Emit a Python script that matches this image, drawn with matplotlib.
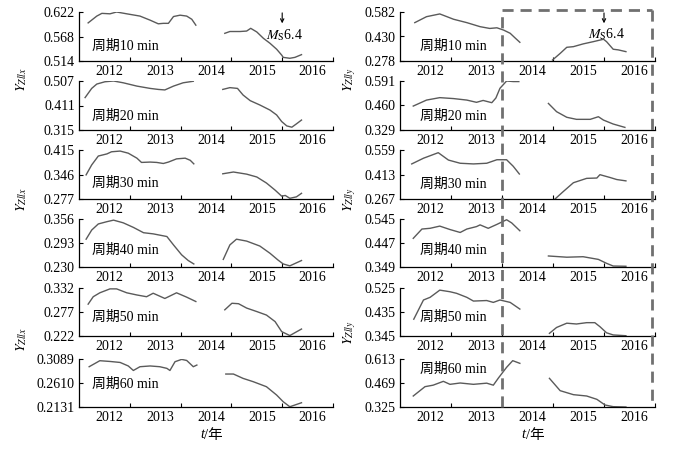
import numpy as np
import matplotlib
matplotlib.use('Agg')
import matplotlib.pyplot as plt
from matplotlib.lines import Line2D
import matplotlib.transforms as mtransforms

plt.rcParams['font.family'] = ['Liberation Serif', 'Noto Sans CJK SC']
plt.rcParams['mathtext.fontset'] = 'stix'

periods = [10, 20, 30, 40, 50, 60]
years = [2012, 2013, 2014, 2015, 2016]

# left column: Y_Zllx  (nan splits the two data segments)
zllx_10_t = [2012.18, 2012.35, 2012.45, 2012.61, 2012.74, 2012.94, 2013.20, 2013.40, 2013.56, 2013.66, 2013.76, 2013.86, 2013.99, 2014.12, 2014.22, 2014.30,
             np.nan, 2014.87, 2014.97, 2015.17, 2015.30, 2015.38, 2015.50, 2015.63, 2015.76, 2015.89, 2015.99, 2016.02, 2016.15, 2016.25, 2016.38]
zllx_10_v = [0.598, 0.613, 0.619, 0.618, 0.622, 0.618, 0.613, 0.604, 0.596, 0.597, 0.597, 0.612, 0.615, 0.613, 0.606, 0.593,
             np.nan, 0.575, 0.579, 0.579, 0.580, 0.586, 0.578, 0.564, 0.553, 0.540, 0.527, 0.522, 0.520, 0.522, 0.528]
zllx_20_t = [2012.12, 2012.25, 2012.35, 2012.51, 2012.68, 2012.87, 2013.14, 2013.40, 2013.56, 2013.69, 2013.86, 2014.05, 2014.25,
             np.nan, 2014.83, 2014.97, 2015.12, 2015.23, 2015.37, 2015.56, 2015.76, 2015.89, 2015.99, 2016.09, 2016.19, 2016.28, 2016.38]
zllx_20_v = [0.442, 0.478, 0.495, 0.504, 0.507, 0.500, 0.487, 0.478, 0.474, 0.472, 0.487, 0.500, 0.506,
             np.nan, 0.474, 0.481, 0.478, 0.452, 0.430, 0.413, 0.393, 0.374, 0.348, 0.331, 0.326, 0.339, 0.354]
zllx_30_t = [2012.14, 2012.25, 2012.38, 2012.55, 2012.64, 2012.81, 2012.97, 2013.14, 2013.23, 2013.40, 2013.53, 2013.66, 2013.76, 2013.92, 2014.09, 2014.19, 2014.26,
             np.nan, 2014.83, 2015.04, 2015.30, 2015.50, 2015.69, 2015.86, 2015.99, 2016.06, 2016.15, 2016.28, 2016.38]
zllx_30_v = [0.345, 0.373, 0.398, 0.404, 0.410, 0.412, 0.406, 0.392, 0.380, 0.381, 0.380, 0.377, 0.381, 0.390, 0.392, 0.386, 0.376,
             np.nan, 0.348, 0.353, 0.347, 0.339, 0.322, 0.302, 0.285, 0.287, 0.279, 0.283, 0.293]
zllx_40_t = [2012.14, 2012.25, 2012.38, 2012.55, 2012.68, 2012.87, 2013.07, 2013.27, 2013.46, 2013.73, 2013.86, 2014.02, 2014.15, 2014.26,
             np.nan, 2014.84, 2014.97, 2015.10, 2015.30, 2015.56, 2015.76, 2015.92, 2016.02, 2016.15, 2016.38]
zllx_40_v = [0.303, 0.327, 0.343, 0.349, 0.353, 0.346, 0.334, 0.320, 0.317, 0.310, 0.288, 0.262, 0.247, 0.238,
             np.nan, 0.250, 0.288, 0.303, 0.298, 0.285, 0.266, 0.248, 0.238, 0.233, 0.247]
zllx_50_t = [2012.18, 2012.28, 2012.41, 2012.61, 2012.74, 2012.94, 2013.14, 2013.33, 2013.46, 2013.69, 2013.92, 2014.12, 2014.30,
             np.nan, 2014.87, 2015.01, 2015.14, 2015.30, 2015.50, 2015.69, 2015.86, 2015.99, 2016.15, 2016.38]
zllx_50_v = [0.295, 0.312, 0.321, 0.330, 0.330, 0.321, 0.316, 0.312, 0.320, 0.308, 0.321, 0.311, 0.301,
             np.nan, 0.282, 0.297, 0.296, 0.286, 0.278, 0.270, 0.255, 0.232, 0.223, 0.238]
zllx_60_t = [2012.20, 2012.41, 2012.61, 2012.81, 2012.97, 2013.07, 2013.20, 2013.40, 2013.59, 2013.73, 2013.79, 2013.89, 2014.02, 2014.12, 2014.25, 2014.32,
             np.nan, 2014.89, 2015.04, 2015.23, 2015.43, 2015.69, 2015.89, 2016.02, 2016.15, 2016.38]
zllx_60_v = [0.2935, 0.3055, 0.304, 0.302, 0.295, 0.286, 0.2935, 0.295, 0.2935, 0.2902, 0.286, 0.3035, 0.3081, 0.306, 0.2935, 0.2968,
             np.nan, 0.2789, 0.2789, 0.2702, 0.2636, 0.2536, 0.2370, 0.2236, 0.2136, 0.2216]

# right column: Y_Zlly
zlly_10_t = [2012.29, 2012.52, 2012.78, 2012.92, 2013.05, 2013.31, 2013.57, 2013.76, 2013.90, 2014.03, 2014.16, 2014.25, 2014.35,
             np.nan, 2014.99, 2015.14, 2015.27, 2015.40, 2015.59, 2015.79, 2015.99, 2016.05, 2016.18, 2016.28, 2016.43]
zlly_10_v = [0.516, 0.553, 0.570, 0.553, 0.537, 0.516, 0.491, 0.480, 0.484, 0.470, 0.450, 0.423, 0.394,
             np.nan, 0.284, 0.325, 0.363, 0.367, 0.384, 0.398, 0.413, 0.398, 0.351, 0.347, 0.336]
zlly_20_t = [2012.26, 2012.52, 2012.78, 2013.05, 2013.31, 2013.50, 2013.63, 2013.80, 2013.88, 2013.96, 2014.09, 2014.22, 2014.33,
             np.nan, 2014.91, 2015.07, 2015.27, 2015.46, 2015.73, 2015.89, 2015.99, 2016.18, 2016.41]
zlly_20_v = [0.457, 0.489, 0.502, 0.497, 0.489, 0.477, 0.487, 0.475, 0.500, 0.552, 0.591, 0.588, 0.588,
             np.nan, 0.471, 0.427, 0.397, 0.386, 0.386, 0.400, 0.382, 0.361, 0.343]
zlly_30_t = [2012.23, 2012.46, 2012.75, 2012.95, 2013.18, 2013.44, 2013.70, 2013.90, 2014.09, 2014.22, 2014.34,
             np.nan, 2015.04, 2015.20, 2015.40, 2015.66, 2015.86, 2015.92, 2016.12, 2016.25, 2016.43]
zlly_30_v = [0.476, 0.510, 0.543, 0.499, 0.480, 0.476, 0.480, 0.501, 0.501, 0.462, 0.416,
             np.nan, 0.267, 0.311, 0.364, 0.390, 0.392, 0.412, 0.395, 0.383, 0.375]
zlly_40_t = [2012.26, 2012.43, 2012.59, 2012.78, 2012.98, 2013.18, 2013.31, 2013.50, 2013.57, 2013.73, 2013.90, 2014.09, 2014.19, 2014.35,
             np.nan, 2014.91, 2015.27, 2015.59, 2015.89, 2016.05, 2016.18, 2016.43]
zlly_40_v = [0.466, 0.504, 0.507, 0.516, 0.502, 0.490, 0.504, 0.514, 0.521, 0.507, 0.523, 0.542, 0.529, 0.497,
             np.nan, 0.394, 0.389, 0.391, 0.380, 0.364, 0.353, 0.352]
zlly_50_t = [2012.27, 2012.46, 2012.59, 2012.78, 2012.98, 2013.11, 2013.31, 2013.44, 2013.70, 2013.83, 2013.96, 2014.16, 2014.35,
             np.nan, 2014.93, 2015.07, 2015.27, 2015.46, 2015.66, 2015.82, 2015.92, 2016.05, 2016.18, 2016.43]
zlly_50_v = [0.408, 0.480, 0.490, 0.517, 0.511, 0.505, 0.490, 0.476, 0.478, 0.471, 0.480, 0.471, 0.446,
             np.nan, 0.355, 0.377, 0.393, 0.390, 0.395, 0.395, 0.380, 0.357, 0.349, 0.346]
zlly_60_t = [2012.26, 2012.49, 2012.65, 2012.85, 2012.98, 2013.18, 2013.44, 2013.70, 2013.83, 2013.93, 2014.09, 2014.21, 2014.35,
             np.nan, 2014.93, 2015.14, 2015.40, 2015.66, 2015.86, 2016.02, 2016.18, 2016.43]
zlly_60_v = [0.391, 0.447, 0.456, 0.479, 0.461, 0.469, 0.461, 0.468, 0.456, 0.499, 0.563, 0.603, 0.587,
             np.nan, 0.497, 0.423, 0.399, 0.391, 0.371, 0.337, 0.327, 0.325]

zllx_ticks = [['0.514', '0.568', '0.622'], ['0.315', '0.411', '0.507'], ['0.277', '0.346', '0.415'],
              ['0.230', '0.293', '0.356'], ['0.222', '0.277', '0.332'], ['0.2131', '0.2610', '0.3089']]
zlly_ticks = [['0.278', '0.430', '0.582'], ['0.329', '0.460', '0.591'], ['0.267', '0.413', '0.559'],
              ['0.349', '0.447', '0.545'], ['0.345', '0.435', '0.525'], ['0.325', '0.469', '0.613']]

quake_year = 2016.0
quake_label = r'$M_{\rm S}$6.4'

zllx_t = [zllx_10_t, zllx_20_t, zllx_30_t, zllx_40_t, zllx_50_t, zllx_60_t]
zllx_v = [zllx_10_v, zllx_20_v, zllx_30_v, zllx_40_v, zllx_50_v, zllx_60_v]
zlly_t = [zlly_10_t, zlly_20_t, zlly_30_t, zlly_40_t, zlly_50_t, zlly_60_t]
zlly_v = [zlly_10_v, zlly_20_v, zlly_30_v, zlly_40_v, zlly_50_v, zlly_60_v]

W, H = 682, 449
fig = plt.figure(figsize=(W / 100, H / 100), dpi=100)

row_top = [12, 81, 150, 219, 288, 359]
row_bot = [61, 130, 199, 267, 336, 407]
col_x = [(79, 333), (400, 655)]
label_y_left = [0.29, 0.27, 0.32, 0.35, 0.39, 0.48]
label_y_right = [0.29, 0.27, 0.30, 0.35, 0.39, 0.79]
label_x = [0.05, 0.078]

line_c = '#5a5a5a'
axes = [[], []]
for c, (ts, vs, ticks, ly) in enumerate([(zllx_t, zllx_v, zllx_ticks, label_y_left),
                                         (zlly_t, zlly_v, zlly_ticks, label_y_right)]):
    x0, x1 = col_x[c]
    for r in range(6):
        ax = fig.add_axes([x0 / W, 1 - row_bot[r] / H, (x1 - x0) / W, (row_bot[r] - row_top[r]) / H])
        ax.plot(ts[r], vs[r], color=line_c, lw=1.0)
        yt = [float(s) for s in ticks[r]]
        ax.set_ylim(yt[0], yt[-1])
        ax.set_yticks(yt)
        ax.set_yticklabels(ticks[r], fontsize=10)
        ax.set_xlim(2012, 2017)
        ax.set_xticks([y + 1 for y in years])
        ax.set_xticklabels([])
        ax.set_xticks([y + 0.6 for y in years], minor=True)
        ax.set_xticklabels([str(y) for y in years], minor=True, fontsize=10)
        ax.tick_params(axis='x', which='major', direction='in', length=3, width=0.8)
        ax.tick_params(axis='x', which='minor', length=0, pad=3)
        ax.tick_params(axis='y', direction='in', length=3, width=0.8, pad=3)
        for s in ['top', 'right']:
            ax.spines[s].set_visible(False)
        for s in ['left', 'bottom']:
            ax.spines[s].set_linewidth(0.9)
        ax.patch.set_alpha(0)
        ax.text(label_x[c], ly[r], '周期%d min' % periods[r], transform=ax.transAxes,
                fontsize=10, va='center', ha='left')
        axes[c].append(ax)

# earthquake marks in the 10 min panels
for c, (dy0, dy1, ty) in enumerate([(0.620, 0.597, 0.571), (0.576, 0.512, 0.444)]):
    ax = axes[c][0]
    ax.annotate('', xy=(quake_year, dy1), xytext=(quake_year, dy0),
                arrowprops=dict(arrowstyle='->', color='black', lw=0.8, mutation_scale=6,
                                shrinkA=0, shrinkB=0))
    ax.text(quake_year + 0.05, ty, quake_label, fontsize=10, ha='center', va='center')

# dashed box on the right column
axr = axes[1][0]
trans = mtransforms.blended_transform_factory(axr.transData, fig.transFigure)
box_top = 1 - 10 / H
box_bot = 1 - 407 / H
for xs, ys in [([2014.0, 2014.0], [box_bot, box_top]), ([2014.0, 2016.95], [box_top, box_top]),
               ([2016.95, 2016.95], [box_top, box_bot])]:
    fig.add_artist(Line2D(xs, ys, transform=trans, color='#707070', lw=2.0,
                          linestyle=(0, (4, 2.5)), clip_on=False))

# y labels
for yy in [80, 200, 340]:
    fig.text(22 / W, 1 - yy / H, r'$Y_{Zllx}$', rotation=90, ha='center', va='center', fontsize=10)
for yy in [80, 200, 333]:
    fig.text(350 / W, 1 - yy / H, r'$Y_{Zlly}$', rotation=90, ha='center', va='center', fontsize=10)

# x labels: italic t, then /年
for x0, x1 in col_x:
    xc = (x0 + x1) / 2 / W
    fig.text(xc - 2 / W, 1 - 435 / H, 't', style='italic', ha='right', va='center', fontsize=10.5)
    fig.text(xc - 2 / W, 1 - 435 / H, '/年', ha='left', va='center', fontsize=10.5)

fig.savefig('out.png', dpi=100)
